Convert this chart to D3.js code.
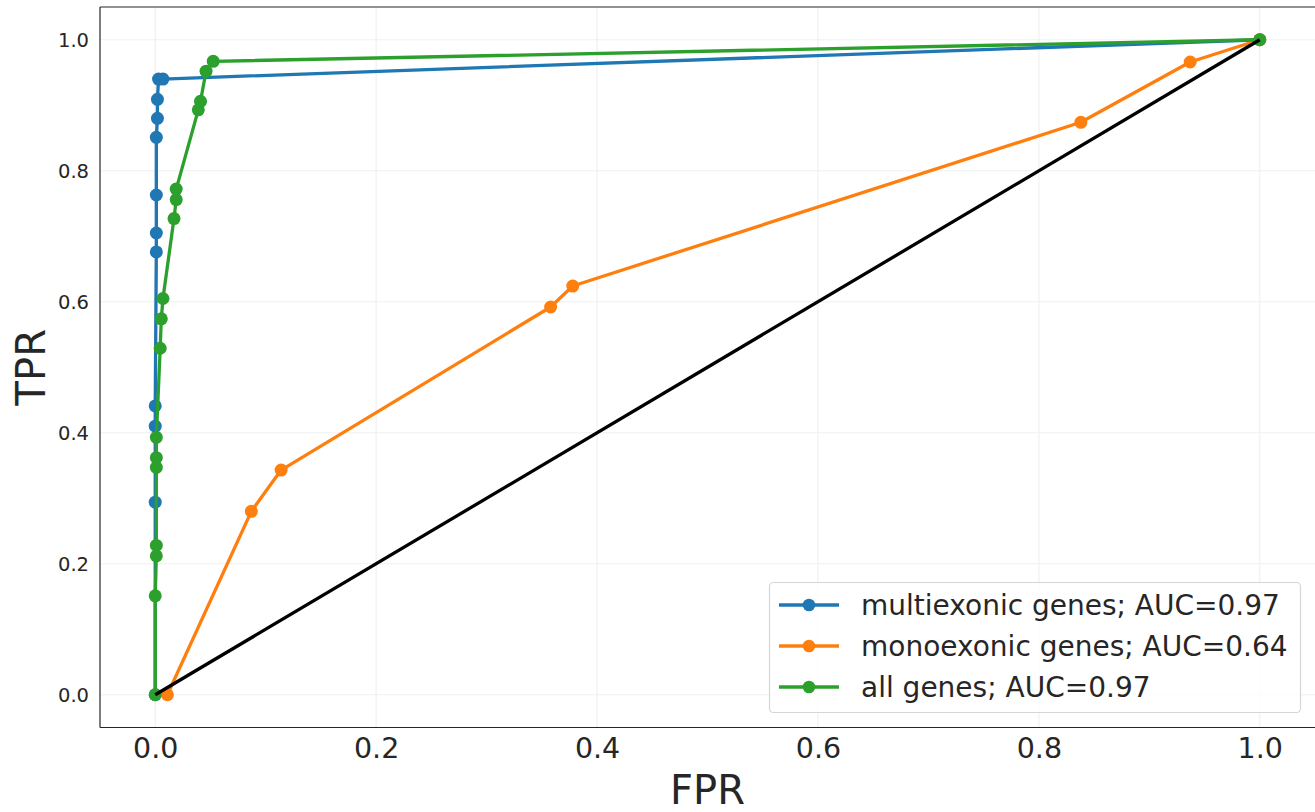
<!DOCTYPE html>
<html>
<head>
<meta charset="utf-8">
<script src="https://cdn.jsdelivr.net/npm/d3@7"></script>
<style>
  html, body { margin: 0; padding: 0; background: #fff; }
  svg { display: block; font-family: "DejaVu Sans", sans-serif; }
</style>
</head>
<body>
<svg id="chart" width="1315" height="812"></svg>
<script>
// ---- data ----
const multiFPR = [0, 0, 0, 0, 0.001, 0.001, 0.001, 0.001, 0.002, 0.002, 0.003, 0.007, 1.0];
const multiTPR = [0, 0.294, 0.41, 0.441, 0.676, 0.705, 0.763, 0.851, 0.88, 0.909, 0.94, 0.94, 1.0];

const monoFPR = [0.011, 0.087, 0.114, 0.358, 0.378, 0.838, 0.937, 1.0];
const monoTPR = [0, 0.28, 0.343, 0.592, 0.624, 0.874, 0.966, 1.0];

const allFPR = [0, 0, 0.001, 0.001, 0.001, 0.001, 0.001, 0.0045, 0.0055, 0.007, 0.017, 0.019, 0.019, 0.039, 0.041, 0.046, 0.0525, 1.0];
const allTPR = [0, 0.151, 0.212, 0.228, 0.347, 0.362, 0.393, 0.529, 0.574, 0.605, 0.727, 0.756, 0.772, 0.893, 0.906, 0.952, 0.967, 1.0];

const diagFPR = [0, 1];
const diagTPR = [0, 1];

const seriesNames = ["multiexonic genes; AUC=0.97", "monoexonic genes; AUC=0.64", "all genes; AUC=0.97"];
const seriesColors = ["#1f77b4", "#ff7f0e", "#2ca02c"];
const xTicks = [0.0, 0.2, 0.4, 0.6, 0.8, 1.0];
const yTicks = [0.0, 0.2, 0.4, 0.6, 0.8, 1.0];
const xLabel = "FPR";
const yLabel = "TPR";

// ---- layout ----
const svg = d3.select("#chart");
const L = 100, T = 7, B = 727.5, RX = 1315;
const x = d3.scaleLinear().domain([-0.05, 1.05]).range([L, RX]);
const y = d3.scaleLinear().domain([-0.05, 1.05]).range([B, T]);
const textColor = "#262626";

// grid
const grid = svg.append("g");
grid.selectAll("line.gx").data(xTicks).enter().append("line")
  .attr("x1", d => x(d)).attr("x2", d => x(d)).attr("y1", T).attr("y2", B)
  .attr("stroke", "#f0f0f0").attr("stroke-width", 1.2);
grid.selectAll("line.gy").data(yTicks).enter().append("line")
  .attr("y1", d => y(d)).attr("y2", d => y(d)).attr("x1", L).attr("x2", RX)
  .attr("stroke", "#f0f0f0").attr("stroke-width", 1.2);

// axes
const xAxis = svg.append("g").attr("transform", `translate(0,${B})`)
  .call(d3.axisBottom(x).tickValues(xTicks).tickFormat(d3.format(".1f")).tickSize(0).tickPadding(10));
xAxis.select(".domain").remove();
xAxis.selectAll("text").attr("font-size", 28.5).attr("fill", textColor).attr("font-family", "DejaVu Sans");

const yAxis = svg.append("g").attr("transform", `translate(${L},0)`)
  .call(d3.axisLeft(y).tickValues(yTicks).tickFormat(d3.format(".1f")).tickSize(0).tickPadding(11));
yAxis.select(".domain").remove();
yAxis.selectAll("text").attr("font-size", 19.5).attr("fill", textColor).attr("font-family", "DejaVu Sans");

// frame (top, left, bottom)
const frame = svg.append("g").attr("stroke", "#262626").attr("stroke-width", 1.2);
frame.append("line").attr("x1", L).attr("x2", RX).attr("y1", T).attr("y2", T);
frame.append("line").attr("x1", L).attr("x2", L).attr("y1", T).attr("y2", B);
frame.append("line").attr("x1", L).attr("x2", RX).attr("y1", B).attr("y2", B);

// series
const line = d3.line().x(d => x(d[0])).y(d => y(d[1]));
const allSeries = [
  [multiFPR, multiTPR],
  [monoFPR, monoTPR],
  [allFPR, allTPR]
];
allSeries.forEach((s, i) => {
  const pts = s[0].map((v, k) => [v, s[1][k]]);
  const g = svg.append("g");
  g.append("path").datum(pts).attr("d", line).attr("fill", "none")
    .attr("stroke", seriesColors[i]).attr("stroke-width", 3.3).attr("stroke-linejoin", "round");
  g.selectAll("circle").data(pts).enter().append("circle")
    .attr("cx", d => x(d[0])).attr("cy", d => y(d[1])).attr("r", 6.5)
    .attr("fill", seriesColors[i]);
});
const diag = diagFPR.map((v, k) => [v, diagTPR[k]]);
svg.append("path").datum(diag).attr("d", line).attr("fill", "none")
  .attr("stroke", "#000").attr("stroke-width", 3.3);

// axis labels
svg.append("text").attr("x", (L + RX) / 2).attr("y", 804).attr("text-anchor", "middle")
  .attr("font-size", 40).attr("fill", textColor).text(xLabel);
svg.append("text").attr("transform", `translate(45,${(T + B) / 2}) rotate(-90)`).attr("text-anchor", "middle")
  .attr("font-size", 40).attr("fill", textColor).text(yLabel);

// legend
const lg = svg.append("g");
lg.append("rect").attr("x", 769.5).attr("y", 582.5).attr("width", 531).attr("height", 130).attr("rx", 4)
  .attr("fill", "rgba(255,255,255,0.8)").attr("stroke", "#d6d6d6").attr("stroke-width", 1.2);
seriesNames.forEach((name, i) => {
  const cy = 605 + i * 41;
  lg.append("line").attr("x1", 779).attr("x2", 839).attr("y1", cy).attr("y2", cy)
    .attr("stroke", seriesColors[i]).attr("stroke-width", 3.3);
  lg.append("circle").attr("cx", 809).attr("cy", cy).attr("r", 6.3).attr("fill", seriesColors[i]);
  lg.append("text").attr("x", 861).attr("y", cy).attr("dy", "0.35em")
    .attr("font-size", 28).attr("fill", textColor).text(name);
});
</script>
</body>
</html>
